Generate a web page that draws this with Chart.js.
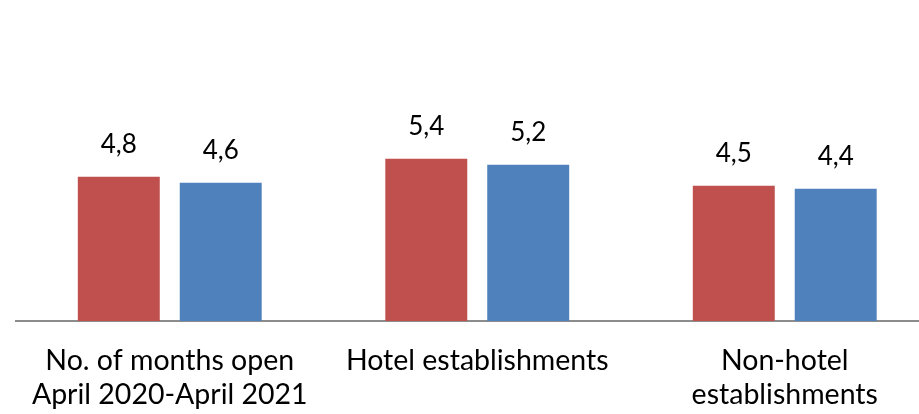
<!DOCTYPE html>
<html>
<head>
<meta charset="utf-8">
<script src="https://cdn.jsdelivr.net/npm/chart.js@4"></script>
<style>
  html, body { margin: 0; padding: 0; background: #fff; overflow: hidden; }
  #wrap { width: 940px; height: 414px; }
</style>
</head>
<body>
<div id="wrap"><canvas id="grafico"></canvas></div>
<script>
// categorias e valores (meses abertos)
const categorias = [
  ['No. of months open', 'April 2020-April 2021'],
  'Hotel establishments',
  ['Non-hotel', 'establishments']
];
const serieVermelha = [4.8, 5.4, 4.5];
const serieAzul = [4.6, 5.2, 4.4];

const fonte = 'Lato, "Liberation Sans", sans-serif';

// escreve o valor em cima de cada barra, com virgula
const rotulosValor = {
  id: 'rotulosValor',
  afterDatasetsDraw(chart) {
    const c = chart.ctx;
    c.save();
    c.font = '26px ' + fonte;
    c.fillStyle = '#000';
    c.textAlign = 'center';
    c.textBaseline = 'alphabetic';
    chart.data.datasets.forEach((ds, i) => {
      chart.getDatasetMeta(i).data.forEach((bar, j) => {
        const txt = ds.data[j].toFixed(1).replace('.', ',');
        c.fillText(txt, bar.x, bar.y - 23.5);
      });
    });
    c.restore();
  }
};

new Chart(document.getElementById('grafico'), {
  type: 'bar',
  data: {
    labels: categorias,
    datasets: [
      { data: serieVermelha, backgroundColor: '#C0504D', categoryPercentage: 0.663, barPercentage: 0.804 },
      { data: serieAzul, backgroundColor: '#4F81BD', categoryPercentage: 0.663, barPercentage: 0.804 }
    ]
  },
  options: {
    responsive: true,
    maintainAspectRatio: false,
    animation: false,
    layout: { padding: { top: 20.5, left: 16, right: 1.5, bottom: 0 } },
    plugins: { legend: { display: false }, tooltip: { enabled: false } },
    scales: {
      x: {
        grid: { display: false, drawTicks: false },
        border: { display: true, color: '#8C8C8C', width: 2 },
        ticks: { color: '#000', font: { family: fonte, size: 28.5, lineHeight: 1.2 }, padding: 23, maxRotation: 0, autoSkip: false },
        afterFit: s => { s.height = 93; }
      },
      y: { display: false, min: 0, max: 10 }
    }
  },
  plugins: [rotulosValor]
});
</script>
</body>
</html>
